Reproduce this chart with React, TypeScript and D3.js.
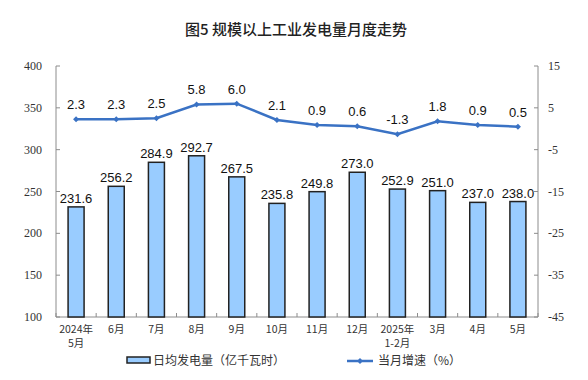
import React from "react";
import * as d3 from "d3";

const categories = ["2024年\n5月", "6月", "7月", "8月", "9月", "10月", "11月", "12月", "2025年\n1-2月", "3月", "4月", "5月"];
const dailyOutput = [231.6, 256.2, 284.9, 292.7, 267.5, 235.8, 249.8, 273.0, 252.9, 251.0, 237.0, 238.0];
const growth = [2.3, 2.3, 2.5, 5.8, 6.0, 2.1, 0.9, 0.6, -1.3, 1.8, 0.9, 0.5];
const leftTicks = [100, 150, 200, 250, 300, 350, 400];
const rightTicks = [-45, -35, -25, -15, -5, 5, 15];

const W = 588, H = 380;
const M = { left: 56, right: 538, top: 66, bottom: 317 };
const AXIS = "#8c8c8c";
const LINE = "#3a72c4";
const SERIF = "'Liberation Serif', 'Times New Roman', serif";
const CJK = "'Noto Sans CJK SC', sans-serif";
const SANS = "'Liberation Sans', Arial, sans-serif";

export default function App() {
  const x = d3.scaleBand<string>().domain(categories).range([M.left, M.right]);
  const yL = d3.scaleLinear().domain([100, 400]).range([M.bottom, M.top]);
  const yR = d3.scaleLinear().domain([-45, 15]).range([M.bottom, M.top]);
  const bw = 16;
  const cx = (i: number) => (x(categories[i]) as number) + x.bandwidth() / 2;
  const line = d3.line<number>().x((_, i) => cx(i)).y((d) => yR(d));
  const diamond = (px: number, py: number, r = 3) =>
    `M${px},${py - r}L${px + r},${py}L${px},${py + r}L${px - r},${py}Z`;

  return (
    <svg width={W} height={H} style={{ position: "absolute", left: 0, top: 0, background: "#fff" }}>
      <text x={296} y={35} textAnchor="middle" fontFamily={CJK} fontSize={15} fontWeight={500} fill="#222">
        图5 规模以上工业发电量月度走势
      </text>

      {/* axes */}
      <line x1={M.left} x2={M.left} y1={M.top} y2={M.bottom} stroke={AXIS} />
      <line x1={M.right} x2={M.right} y1={M.top} y2={M.bottom} stroke={AXIS} />
      <line x1={M.left} x2={M.right} y1={M.bottom} y2={M.bottom} stroke={AXIS} />
      {leftTicks.map((t) => (
        <g key={"l" + t}>
          <line x1={M.left} x2={M.left + 4} y1={yL(t)} y2={yL(t)} stroke={AXIS} />
          <text x={42} y={yL(t) + 4} textAnchor="end" fontFamily={SERIF} fontSize={12} fill="#333">{t}</text>
        </g>
      ))}
      {rightTicks.map((t) => (
        <g key={"r" + t}>
          <line x1={M.right - 4} x2={M.right} y1={yR(t)} y2={yR(t)} stroke={AXIS} />
          <text x={548} y={yR(t) + 4} textAnchor="start" fontFamily={SERIF} fontSize={12} fill="#333">{t}</text>
        </g>
      ))}
      {categories.map((c, i) => (
        <line key={"xt" + i} x1={x(c) as number} x2={x(c) as number} y1={M.bottom} y2={M.bottom - 4} stroke={AXIS} />
      ))}
      <line x1={M.right} x2={M.right} y1={M.bottom} y2={M.bottom - 4} stroke={AXIS} />
      {categories.map((c, i) => (
        <text key={"xl" + i} x={cx(i)} y={333} textAnchor="middle" fontFamily={CJK} fontSize={10.5} fill="#333">
          {c.split("\n").map((s, j) => (
            <tspan key={j} x={cx(i)} dy={j === 0 ? 0 : 14}>{s}</tspan>
          ))}
        </text>
      ))}

      {/* bars */}
      {dailyOutput.map((v, i) => (
        <g key={"b" + i}>
          <rect x={cx(i) - bw / 2} y={yL(v)} width={bw} height={M.bottom - yL(v)} fill="#99ccff" stroke="#222" strokeWidth={1.5} />
          <text x={cx(i)} y={yL(v) - 4} textAnchor="middle" fontFamily={SANS} fontSize={13} fill="#111">
            {v.toFixed(1)}
          </text>
        </g>
      ))}

      {/* line */}
      <path d={line(growth) as string} fill="none" stroke={LINE} strokeWidth={2.5} />
      {growth.map((v, i) => (
        <g key={"p" + i}>
          <path d={diamond(cx(i), yR(v))} fill={LINE} />
          <text x={cx(i)} y={yR(v) - 10} textAnchor="middle" fontFamily={SANS} fontSize={13} fill="#111">
            {v.toFixed(1)}
          </text>
        </g>
      ))}

      {/* legend */}
      <rect x={127} y={357} width={23} height={6} fill="#99ccff" stroke="#222" strokeWidth={1.5} />
      <text x={153} y={365} fontFamily={CJK} fontSize={12} fill="#333">日均发电量（亿千瓦时）</text>
      <line x1={347} x2={373} y1={361} y2={361} stroke={LINE} strokeWidth={2.5} />
      <path d={diamond(360, 361)} fill={LINE} />
      <text x={378} y={365} fontFamily={CJK} fontSize={12} fill="#333">当月增速（%）</text>
    </svg>
  );
}
